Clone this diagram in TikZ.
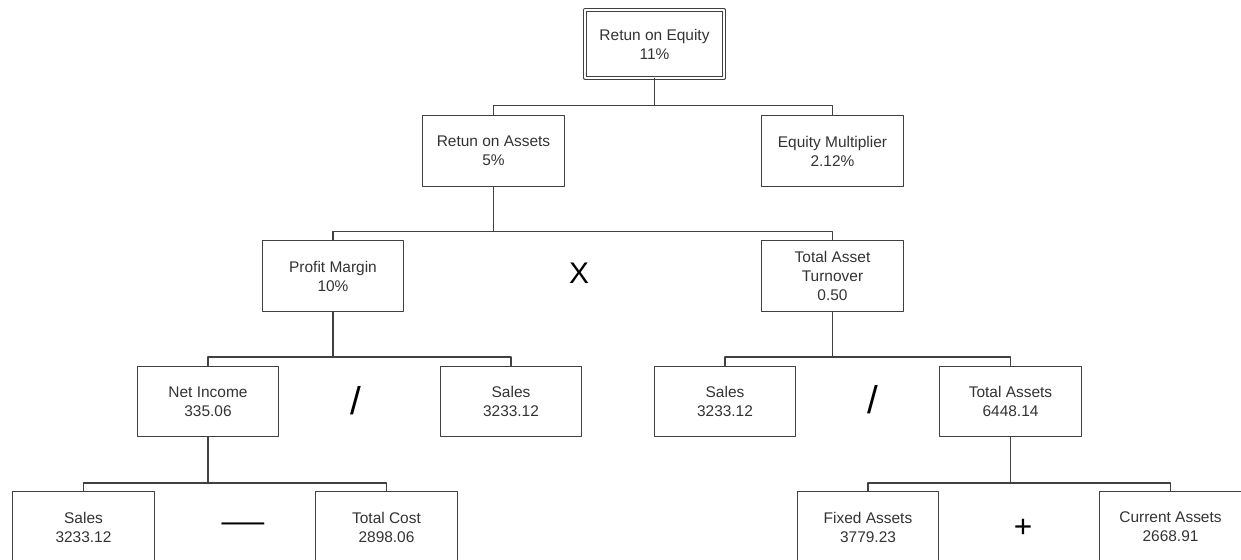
\documentclass[tikz,border=0pt]{standalone}
\usepackage{fontspec}
\setmainfont{Liberation Sans}
\usepackage{tikz}

\begin{document}
\begin{tikzpicture}[line cap=round,line join=round,x=1.0cm,y=1.0cm,
  link/.style={draw=black!75,line width=0.75pt},
  box/.style={draw=black!75,line width=0.75pt,minimum width=2.83cm,minimum height=1.41cm,inner sep=0pt,align=center,text=black!80,font=\fontsize{8.8}{10.8}\selectfont},
  topbox/.style={box,double,double distance=0.95pt,line width=0.7pt,minimum width=2.78cm,minimum height=1.35cm},
  op/.style={inner sep=0pt,text=black}]
\clip(0,0) rectangle (24.82,11.2);

\node[topbox] (roe) at (13.09,10.32) {Retun on Equity\\11\%};

\node[box] (roa) at (9.87,8.18) {Retun on Assets\\5\%};
\node[box] (em) at (16.65,8.18) {Equity Multiplier\\2.12\%};

\node[box] (pm) at (6.66,5.68) {Profit Margin\\10\%};
\node[box] (tat) at (16.65,5.68) {Total Asset\\Turnover\\0.50};
\node[op,font=\fontsize{17}{20}\selectfont] (times) at (11.58,5.74) {X};

\node[box] (ni) at (4.16,3.17) {Net Income\\335.06};
\node[box] (salesA) at (10.22,3.17) {Sales\\3233.12};
\node[op,font=\fontsize{22}{24}\selectfont] (divA) at (7.12,3.18) {/};
\node[box] (salesB) at (14.50,3.17) {Sales\\3233.12};
\node[box] (ta) at (20.21,3.17) {Total Assets\\6448.14};
\node[op,font=\fontsize{22}{24}\selectfont] (divB) at (17.46,3.2) {/};

\node[box] (salesC) at (1.67,0.66) {Sales\\3233.12};
\node[box] (tc) at (7.73,0.66) {Total Cost\\2898.06};
\node[op,font=\fontsize{17}{20}\selectfont] (minus) at (4.86,0.66) {\scalebox{1.43}[1]{—}};
\node[box] (fa) at (17.36,0.66) {Fixed Assets\\3779.23};
\node[box] (ca) at (23.41,0.66) {Current Assets\\2668.91};
\node[op,font=\fontsize{18}{20}\selectfont] (plus) at (20.46,0.64) {+};

\draw[link] (roe.south) -- ++(0,-0.54) coordinate (b0);
\draw[link] (roa.north) |- (b0) -| (em.north);

\draw[link] (roa.south) -- ++(0,-0.89) coordinate (b1);
\draw[link] (pm.north) |- (b1) -| (tat.north);

\draw[link] (pm.south) -- ++(0,-0.9) coordinate (b2);
\draw[link] (ni.north) |- (b2) -| (salesA.north);
\draw[link] (tat.south) -- ++(0,-0.9) coordinate (b3);
\draw[link] (salesB.north) |- (b3) -| (ta.north);

\draw[link] (ni.south) -- ++(0,-0.91) coordinate (b4);
\draw[link] (salesC.north) |- (b4) -| (tc.north);
\draw[link] (ta.south) -- ++(0,-0.91) coordinate (b5);
\draw[link] (fa.north) |- (b5) -| (ca.north);

\end{tikzpicture}
\end{document}
